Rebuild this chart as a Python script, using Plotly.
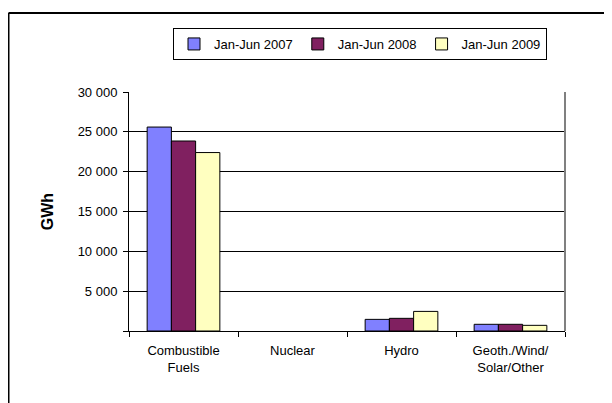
import plotly.graph_objects as go

categories = ["Combustible<br>Fuels", "Nuclear", "Hydro", "Geoth./Wind/<br>Solar/Other"]
series_names = ["Jan-Jun 2007", "Jan-Jun 2008", "Jan-Jun 2009"]
values_2007 = [25600, None, 1460, 840]
values_2008 = [23850, None, 1590, 840]
values_2009 = [22400, None, 2460, 710]
colors = ["#8080FF", "#802060", "#FFFFC0"]
y_tickvals = [0, 5000, 10000, 15000, 20000, 25000, 30000]
y_ticktext = ["", "5 000", "10 000", "15 000", "20 000", "25 000", "30 000"]

FONT = "Arial, Liberation Sans, sans-serif"

fig = go.Figure()
for name, vals, col in zip(series_names, [values_2007, values_2008, values_2009], colors):
    fig.add_trace(go.Bar(
        x=categories, y=vals, name=name,
        marker=dict(color=col, line=dict(color="#000000", width=1)),
    ))

# page has an 8px body margin; figure coordinates = page - 8
OFF = 8
W, H = 612 - OFF, 403 - OFF
L, R, T, B = 129 - OFF, 612 - 565, 92 - OFF, 403 - 331
pw, ph = W - L - R, H - T - B

def px_x(x):
    return (x - OFF - L) / pw

def px_y(y):
    return (H - B - (y - OFF)) / ph

fig.update_layout(
    width=W, height=H,
    margin=dict(l=L, r=R, t=T, b=B),
    paper_bgcolor="white", plot_bgcolor="white",
    font=dict(family=FONT, size=13, color="#000000"),
    barmode="group", bargap=0.333, bargroupgap=0,
    showlegend=True,
    legend=dict(
        orientation="h", x=px_x(173), y=px_y(28), xanchor="left", yanchor="top",
        bgcolor="white", bordercolor="#000000", borderwidth=1,
        font=dict(family=FONT, size=13, color="#000000"),
        itemwidth=30, traceorder="normal",
    ),
    xaxis=dict(
        type="category", categoryorder="array", categoryarray=categories,
        showline=True, linecolor="#000000", linewidth=1,
        ticks="outside", ticklen=5, tickcolor="#000000", tickson="boundaries",
        ticklabelstandoff=7,
        showgrid=False, tickfont=dict(family=FONT, size=13, color="#000000"),
    ),
    yaxis=dict(
        range=[0, 30000], tickvals=y_tickvals, ticktext=y_ticktext,
        showline=True, linecolor="#000000", linewidth=1,
        ticks="outside", ticklen=5, tickcolor="#000000", ticklabelstandoff=3,
        showgrid=True, gridcolor="#000000", gridwidth=1, zeroline=False,
        tickfont=dict(family=FONT, size=13, color="#000000"),
        title=dict(text="<b>GWh</b>", standoff=20, font=dict(family=FONT, size=16, color="#000000")),
    ),
    shapes=[
        dict(type="line", xref="paper", yref="paper", x0=1, x1=1, y0=0, y1=1,
             line=dict(color="#808080", width=2)),
        dict(type="line", xref="paper", yref="paper", x0=px_x(8.5), x1=px_x(613), y0=px_y(13), y1=px_y(13),
             line=dict(color="#000000", width=2)),
        dict(type="line", xref="paper", yref="paper", x0=px_x(8.5), x1=px_x(8.5), y0=px_y(13), y1=px_y(404),
             line=dict(color="#000000", width=2)),
    ],
)

fig.write_html("out.html")
